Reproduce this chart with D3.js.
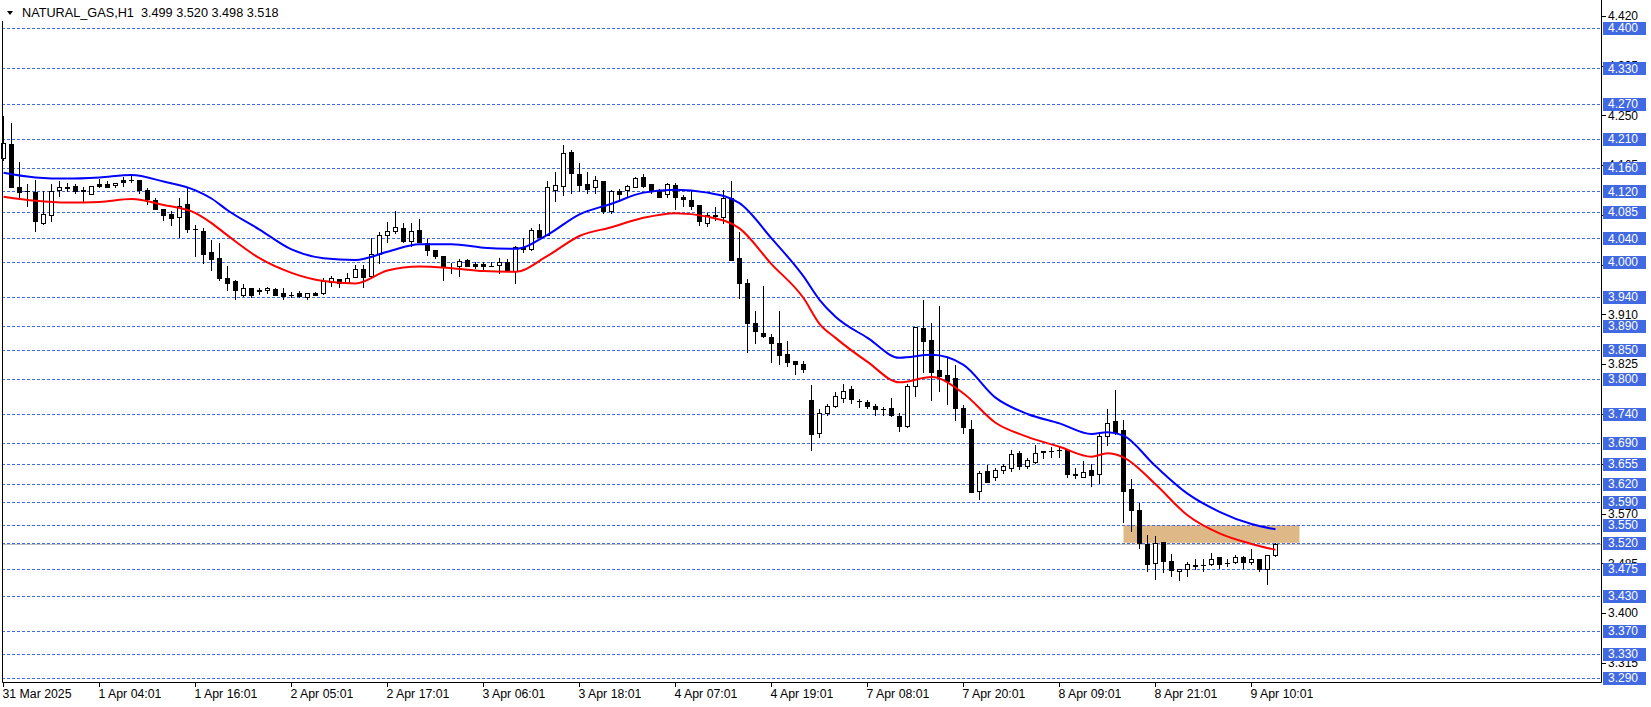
<!DOCTYPE html>
<html><head><meta charset="utf-8">
<script src="https://cdn.jsdelivr.net/npm/d3@7/dist/d3.min.js"></script>
<style>
body{margin:0;background:#fff;}
svg{display:block;}
text{font-family:"Liberation Sans",Arial,sans-serif;font-size:12px;}
</style>
</head><body>
<svg id="c" width="1651" height="707"></svg>
<script>
// ---- data ----
const symbolTitle = "NATURAL_GAS,H1";
const lastBarText = "3.499 3.520 3.498 3.518";
const opens = [4.177,4.201,4.127,4.121,4.119,4.067,4.079,4.122,4.128,4.129,4.122,4.116,4.133,4.133,4.131,4.140,4.139,4.140,4.123,4.106,
4.090,4.082,4.076,4.099,4.056,4.053,4.017,4.007,3.973,3.967,3.944,3.956,3.951,3.951,3.953,3.946,3.944,3.946,3.940,3.946,
3.946,3.966,3.971,3.963,3.974,3.988,3.976,4.014,4.045,4.053,4.057,4.036,4.054,4.032,4.020,4.010,3.990,3.992,4.003,3.996,
3.996,3.993,3.994,4.000,3.984,4.025,4.021,4.055,4.045,4.122,4.130,4.187,4.150,4.132,4.127,4.138,4.086,4.120,4.123,4.128,
4.144,4.132,4.123,4.116,4.131,4.111,4.106,4.097,4.067,4.079,4.077,4.108,4.006,3.963,3.895,3.879,3.872,3.861,3.842,3.830,
3.826,3.764,3.707,3.741,3.753,3.767,3.782,3.763,3.760,3.754,3.749,3.751,3.736,3.719,3.787,3.886,3.867,3.815,3.807,3.801,
3.751,3.715,3.609,3.642,3.632,3.645,3.648,3.673,3.652,3.658,3.676,3.677,3.678,3.678,3.637,3.633,3.644,3.637,3.702,3.728,
3.713,3.612,3.576,3.518,3.486,3.522,3.489,3.472,3.476,3.482,3.482,3.483,3.495,3.485,3.488,3.496,3.488,3.493,3.475,3.499];
const highs = [4.249,4.237,4.171,4.133,4.140,4.121,4.133,4.138,4.134,4.133,4.127,4.129,4.142,4.138,4.134,4.145,4.147,4.140,4.126,4.108,
4.090,4.086,4.108,4.127,4.063,4.057,4.037,4.032,3.993,3.969,3.962,3.956,3.955,3.957,3.955,3.955,3.948,3.950,3.946,3.948,
3.973,3.976,3.971,3.980,3.994,3.994,4.040,4.051,4.068,4.086,4.067,4.067,4.073,4.039,4.020,4.010,3.997,4.004,4.004,3.999,
4.000,4.000,4.006,4.004,4.027,4.040,4.057,4.065,4.138,4.154,4.200,4.191,4.168,4.153,4.146,4.138,4.123,4.124,4.131,4.145,
4.150,4.132,4.124,4.135,4.134,4.114,4.122,4.097,4.083,4.093,4.123,4.138,4.050,3.970,3.916,3.959,3.877,3.916,3.865,3.830,
3.830,3.789,3.748,3.757,3.778,3.792,3.787,3.765,3.764,3.757,3.752,3.767,3.741,3.792,3.888,3.935,3.895,3.924,3.835,3.824,
3.755,3.730,3.642,3.653,3.647,3.654,3.678,3.676,3.664,3.687,3.677,3.683,3.684,3.678,3.647,3.659,3.655,3.710,3.748,3.781,
3.730,3.629,3.588,3.533,3.531,3.522,3.501,3.476,3.488,3.493,3.492,3.503,3.495,3.492,3.499,3.497,3.509,3.493,3.499,3.520];
const lows = [4.174,4.127,4.107,4.095,4.052,4.064,4.070,4.112,4.120,4.117,4.103,4.116,4.127,4.128,4.128,4.129,4.137,4.117,4.099,4.090,
4.071,4.063,4.043,4.051,4.009,3.998,3.986,3.968,3.952,3.936,3.942,3.940,3.945,3.946,3.943,3.937,3.940,3.939,3.936,3.943,
3.945,3.959,3.957,3.963,3.974,3.957,3.976,3.998,4.034,4.049,4.034,4.027,4.034,4.012,4.006,3.969,3.981,3.975,3.992,3.989,
3.988,3.992,3.980,3.984,3.964,4.016,4.020,4.043,4.045,4.103,4.114,4.117,4.120,4.117,4.117,4.084,4.084,4.103,4.111,4.127,
4.128,4.117,4.110,4.110,4.090,4.095,4.090,4.063,4.061,4.071,4.067,4.003,3.938,3.846,3.862,3.871,3.828,3.826,3.822,3.809,
3.811,3.678,3.700,3.738,3.752,3.761,3.759,3.752,3.750,3.738,3.739,3.737,3.711,3.718,3.771,3.812,3.764,3.780,3.757,3.729,
3.708,3.606,3.595,3.623,3.627,3.640,3.643,3.646,3.648,3.657,3.665,3.667,3.666,3.633,3.630,3.633,3.617,3.622,3.687,3.706,
3.556,3.540,3.511,3.472,3.458,3.471,3.463,3.457,3.463,3.476,3.472,3.482,3.477,3.480,3.486,3.477,3.484,3.472,3.449,3.498];
const closes = [4.202,4.128,4.119,4.120,4.069,4.081,4.120,4.127,4.126,4.120,4.121,4.129,4.130,4.128,4.134,4.137,4.139,4.123,4.107,4.090,
4.079,4.075,4.096,4.056,4.056,4.013,4.005,3.973,3.964,3.951,3.955,3.944,3.950,3.956,3.944,3.942,3.944,3.942,3.946,3.944,
3.967,3.972,3.963,3.973,3.987,3.974,4.013,4.045,4.053,4.059,4.036,4.052,4.034,4.020,4.009,3.992,3.990,4.002,3.993,3.992,
3.992,3.993,3.999,3.984,4.026,4.021,4.055,4.043,4.127,4.131,4.185,4.151,4.131,4.124,4.139,4.086,4.120,4.115,4.129,4.143,
4.130,4.121,4.110,4.132,4.110,4.107,4.096,4.069,4.080,4.078,4.108,4.003,3.963,3.896,3.881,3.874,3.862,3.840,3.828,3.825,
3.816,3.705,3.741,3.754,3.771,3.780,3.765,3.762,3.754,3.748,3.748,3.739,3.720,3.787,3.888,3.864,3.812,3.805,3.797,3.751,
3.717,3.607,3.640,3.624,3.644,3.651,3.671,3.652,3.661,3.674,3.675,3.677,3.679,3.637,3.636,3.641,3.636,3.702,3.724,3.710,
3.609,3.576,3.519,3.484,3.519,3.489,3.474,3.476,3.483,3.481,3.482,3.493,3.483,3.485,3.495,3.488,3.493,3.475,3.499,3.518];

const maIdx  = [0,4,8,12,16,20,24,26,28,32,36,40,44,48,52,56,60,64,68,72,76,80,84,88,92,96,100,102,104,108,112,116,120,124,128,132,136,138,140,144,148,152,156,159];
const blueMA = [4.152,4.144,4.142,4.144,4.148,4.137,4.122,4.108,4.088,4.055,4.021,4.006,4.003,4.017,4.030,4.030,4.024,4.022,4.046,4.081,4.099,4.118,4.123,4.118,4.100,4.040,3.975,3.935,3.906,3.870,3.836,3.841,3.824,3.768,3.740,3.724,3.706,3.709,3.703,3.651,3.604,3.573,3.552,3.543];
const redMA  = [4.111,4.104,4.101,4.102,4.107,4.097,4.083,4.066,4.045,4.006,3.981,3.967,3.963,3.985,3.992,3.989,3.984,3.983,4.010,4.044,4.059,4.075,4.083,4.077,4.057,3.996,3.938,3.894,3.870,3.829,3.794,3.803,3.775,3.725,3.701,3.684,3.667,3.673,3.666,3.620,3.567,3.536,3.518,3.508];

const timeTickIdx = [0,12,24,36,48,60,72,84,96,108,120,132,144,156];
const timeTickLabels = ["31 Mar 2025","1 Apr 04:01","1 Apr 16:01","2 Apr 05:01","2 Apr 17:01","3 Apr 06:01","3 Apr 18:01",
  "4 Apr 07:01","4 Apr 19:01","7 Apr 08:01","7 Apr 20:01","8 Apr 09:01","8 Apr 21:01","9 Apr 10:01"];
const priceAxisTicks = [4.420,4.335,4.250,4.165,4.080,3.995,3.910,3.825,3.740,3.655,3.570,3.485,3.400,3.315];
const levelLines = [4.400,4.330,4.270,4.210,4.160,4.120,4.085,4.040,4.000,3.940,3.890,3.850,3.800,3.740,3.690,3.655,3.620,3.590,3.550,3.520,3.475,3.430,3.370,3.330,3.290];
const zoneBars = [140,162];
const zonePrices = [3.520,3.550];
const bidPrice = 3.518;

// ---- layout ----
const L = 2, R = 1601, B = 682;
const svg = d3.select("#c");

const x = d3.scaleLinear().domain([0,159]).range([3.5, 3.5 + 8*159]);
const y = d3.scaleLinear().domain([3.290, 4.400]).range([677.5, 27.5]);
const py = v => Math.round(y(v)) + 0.5;

const LINE_BLUE = "#4169E1";

// zone rectangle (background)
svg.append("rect")
  .attr("x", x(zoneBars[0])).attr("width", x(zoneBars[1]) - x(zoneBars[0]))
  .attr("y", y(zonePrices[1])).attr("height", y(zonePrices[0]) - y(zonePrices[1]))
  .attr("fill", "#DEB887");

// horizontal level lines
svg.append("g").selectAll("line").data(levelLines).join("line")
  .attr("x1", L).attr("x2", R)
  .attr("y1", d => py(d)).attr("y2", d => py(d))
  .attr("stroke", LINE_BLUE).attr("stroke-width", 1).attr("stroke-dasharray", "3,2");

// bid line
svg.append("line").attr("x1", L).attr("x2", R)
  .attr("y1", py(bidPrice)).attr("y2", py(bidPrice))
  .attr("stroke", "#C0C0C0").attr("stroke-width", 1);

// candles
const idx = d3.range(opens.length);
const cg = svg.append("g");
idx.forEach(i => {
  const cx = x(i);
  const o = opens[i], c = closes[i], h = highs[i], l = lows[i];
  cg.append("line").attr("x1", cx).attr("x2", cx)
    .attr("y1", Math.round(y(h))).attr("y2", Math.round(y(l)) + 1)
    .attr("stroke", "#000").attr("stroke-width", 1);
  const top = Math.round(y(Math.max(o, c)));
  const bot = Math.round(y(Math.min(o, c)));
  if (bot - top < 1) {
    cg.append("line").attr("x1", cx - 2.5).attr("x2", cx + 2.5)
      .attr("y1", top + 0.5).attr("y2", top + 0.5)
      .attr("stroke", "#000").attr("stroke-width", 1);
  } else if (c >= o) {
    cg.append("rect").attr("x", cx - 2).attr("width", 4)
      .attr("y", top + 0.5).attr("height", bot - top)
      .attr("fill", "#fff").attr("stroke", "#000").attr("stroke-width", 1);
  } else {
    cg.append("rect").attr("x", cx - 2.5).attr("width", 5)
      .attr("y", top).attr("height", bot - top + 1)
      .attr("fill", "#000");
  }
});

// moving averages
const maLine = vals => d3.line()
  .x((d, k) => x(maIdx[k])).y(d => y(d))
  .curve(d3.curveMonotoneX)(vals);
svg.append("path").attr("d", maLine(blueMA)).attr("fill", "none")
  .attr("stroke", "#0000FF").attr("stroke-width", 2);
svg.append("path").attr("d", maLine(redMA)).attr("fill", "none")
  .attr("stroke", "#FF0000").attr("stroke-width", 2);

// frame
svg.append("path").attr("d", `M${L+0.5},21 V${B+0.5} H${R+0.5} V0`)
  .attr("fill", "none").attr("stroke", "#000").attr("stroke-width", 1);

// right price axis
const ax = svg.append("g");
priceAxisTicks.forEach(v => {
  ax.append("line").attr("x1", R + 1).attr("x2", R + 5)
    .attr("y1", py(v)).attr("y2", py(v)).attr("stroke", "#000");
  ax.append("text").attr("x", 1608).attr("y", y(v)).attr("dy", "0.35em")
    .attr("fill", "#000").text(v.toFixed(3));
});
levelLines.forEach(v => {
  ax.append("rect").attr("x", 1603).attr("y", Math.round(y(v)) - 6)
    .attr("width", 43).attr("height", 13).attr("fill", LINE_BLUE);
  ax.append("text").attr("x", 1608).attr("y", y(v)).attr("dy", "0.35em")
    .attr("fill", "#fff").text(v.toFixed(3));
});

// bottom time axis
const tx = svg.append("g");
timeTickIdx.forEach((ti, k) => {
  const xx = x(ti);
  tx.append("line").attr("x1", xx).attr("x2", xx).attr("y1", B + 1).attr("y2", B + 5).attr("stroke", "#000");
  tx.append("text").attr("x", xx - 1).attr("y", 698).attr("fill", "#000")
    .style("font-size", "12.3px").text(timeTickLabels[k]);
});

// header
svg.append("path").attr("d", "M7,11 L13,11 L10,15 Z").attr("fill", "#000");
svg.append("text").attr("x", 22).attr("y", 17).attr("fill", "#000").attr("xml:space", "preserve")
  .style("font-size", "12.7px").text(symbolTitle + "  " + lastBarText);
</script>
</body></html>
